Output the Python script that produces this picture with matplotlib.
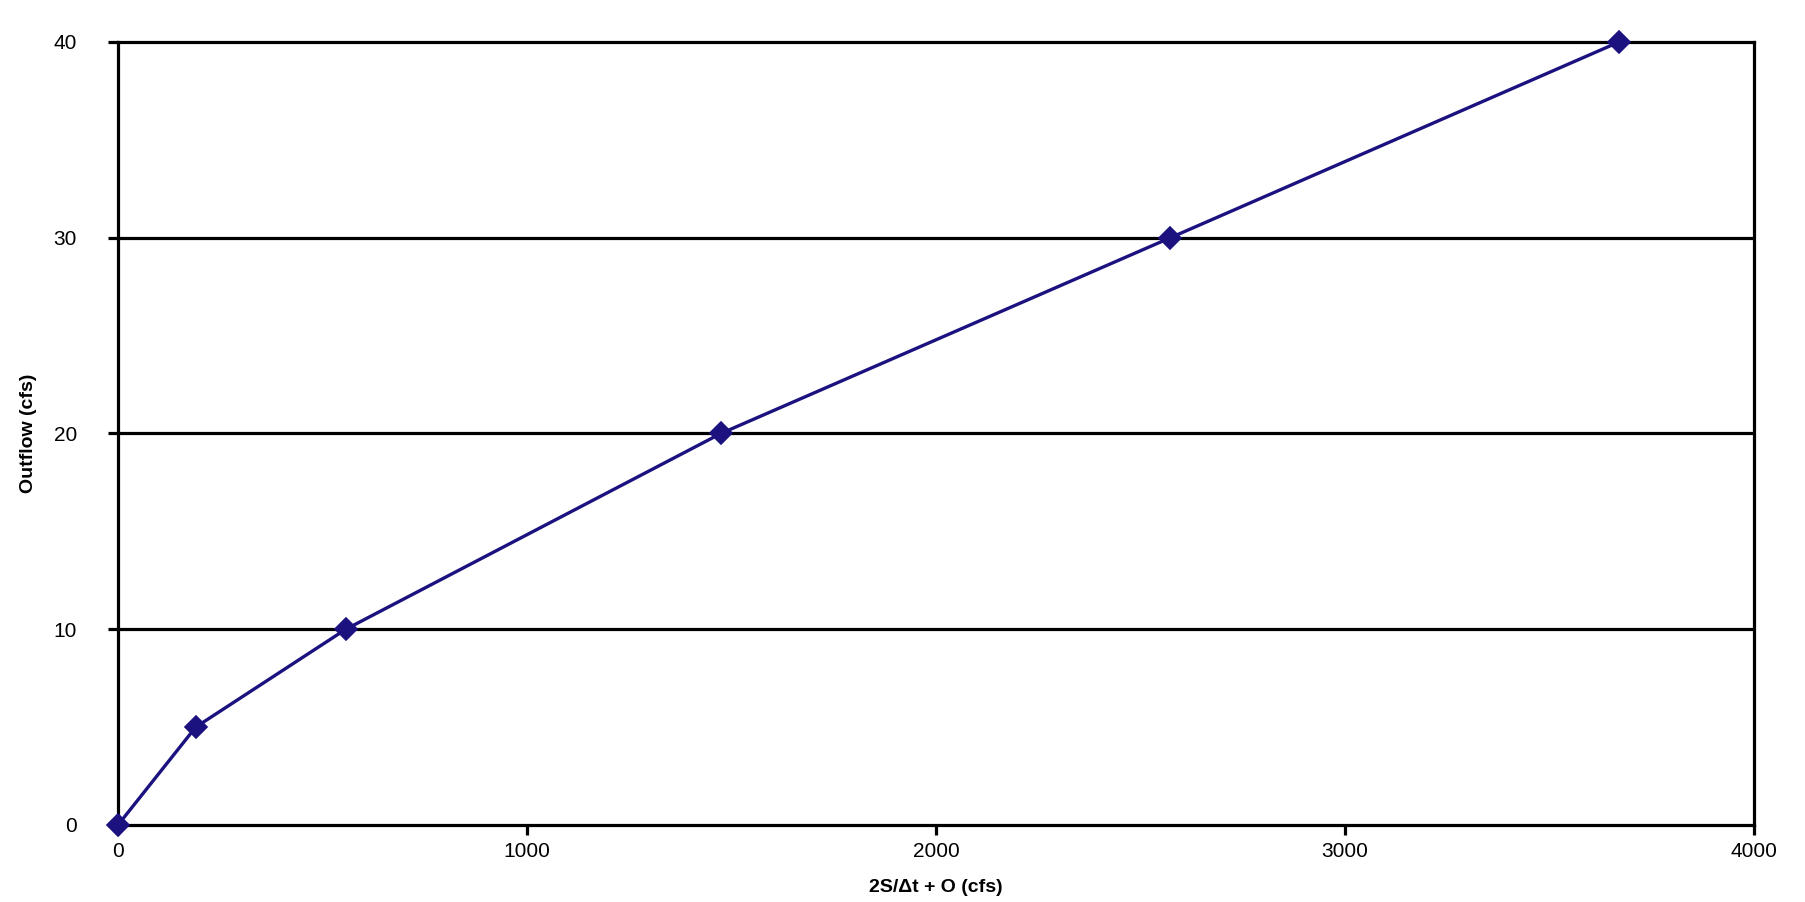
import matplotlib
matplotlib.use('Agg')
import matplotlib.pyplot as plt

plt.rcParams['font.family'] = ['Liberation Sans', 'DejaVu Sans']

# Storage-indication curve data
storage_outflow = [0, 190, 557, 1474, 2573, 3670]
outflow = [0, 5, 10, 20, 30, 40]

x_ticks = [0, 1000, 2000, 3000, 4000]
y_ticks = [0, 10, 20, 30, 40]

fig = plt.figure(figsize=(18.06, 9.02), dpi=100)
ax = fig.add_axes([118 / 1806, 77 / 902, 1636 / 1806, 783 / 902])

# Horizontal gridlines
for yv in y_ticks[1:-1]:
    ax.axhline(yv, color='black', linewidth=2.3, zorder=1)

ax.plot(storage_outflow, outflow, color='#1b1280', linewidth=2.4,
        marker='D', markersize=11.5, markeredgewidth=1.2, markeredgecolor='#1b1280',
        markerfacecolor='#1b1280', solid_joinstyle='round', clip_on=False, zorder=3)

ax.set_xlim(0, 4000)
ax.set_ylim(0, 40)
ax.set_xticks(x_ticks)
ax.set_yticks(y_ticks)

for s in ax.spines.values():
    s.set_linewidth(2.3)
    s.set_color('black')
    s.set_zorder(2)

ax.tick_params(axis='x', direction='out', length=7.5, width=2.3, labelsize=15, pad=4.5)
ax.tick_params(axis='y', direction='out', length=7.5, width=2.3, labelsize=15, pad=22)

ax.set_xlabel('2S/Δt + O (cfs)', fontsize=14, fontweight='bold')
ax.set_ylabel('Outflow (cfs)', fontsize=14, fontweight='bold')
ax.xaxis.set_label_coords(0.5, -63 / 783)
ax.xaxis.label.set_va('center')
ax.yaxis.set_label_coords(-89 / 1636, 0.5)
ax.yaxis.label.set_va('center')

plt.savefig('out.png', dpi=100)
